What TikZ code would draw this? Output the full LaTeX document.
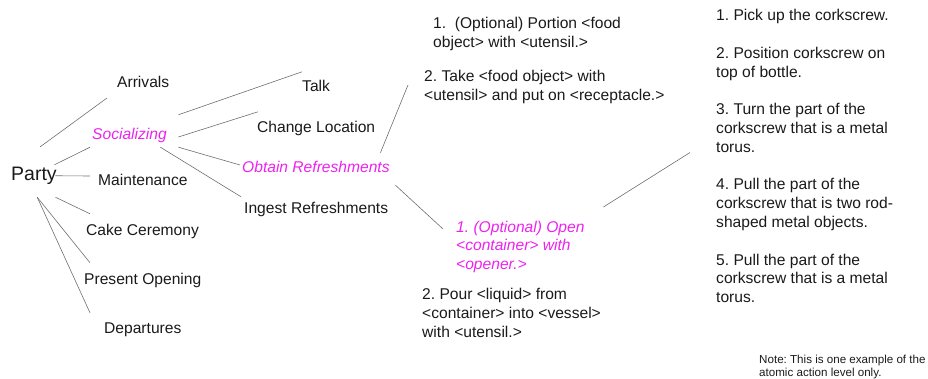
\documentclass[tikz,border=0pt]{standalone}
\usepackage{fontspec}
\setmainfont{Liberation Sans}
\usepackage{tikz}
\definecolor{hilite}{HTML}{EE22EE}
\definecolor{wire}{HTML}{6E6E6E}
\definecolor{ink}{HTML}{1A1A1A}
\newcommand{\bodyfont}{\fontsize{15.6}{18.8}\selectfont}
\newcommand{\notefont}{\fontsize{11.6}{13}\selectfont}
\frenchspacing

\begin{document}
\begin{tikzpicture}[
  x=1pt, y=-1pt,
  lbl/.style={anchor=base west, inner sep=0pt, text height=11.5pt,
              text depth=3.3pt, font=\bodyfont, text=ink},
  hot/.style={lbl, font=\bodyfont\itshape, text=hilite},
  para/.style={anchor=north west, inner sep=0pt, align=left,
               font=\bodyfont, text=ink},
  link/.style={draw=wire, line width=0.6pt}
]
\useasboundingbox (0,0) rectangle (928,379);
% Party and its activities
\node[lbl, font=\fontsize{19.5}{23}\selectfont, text height=14.5pt,
      text depth=4pt] (party) at (11,181) {Party};
\node[lbl] (arrivals) at (117,87.5)  {Arrivals};
\node[hot] (social)   at (92,139.5)  {Socializing};
\node[lbl] (maint)    at (98,185.5)  {Maintenance};
\node[lbl] (cake)     at (86,235.5)  {Cake Ceremony};
\node[lbl] (present)  at (84,284.5)  {Present Opening};
\node[lbl] (depart)   at (104,333.5) {Departures};
% Socializing row
\node[lbl] (talk)    at (302,91.5)  {Talk};
\node[lbl] (change)  at (257,132.5) {Change Location};
\node[hot] (obtain)  at (242,172.5) {Obtain Refreshments};
\node[lbl] (ingest)  at (244,213.5) {Ingest Refreshments};
% Refreshment steps
\node[para] (portion) at (433,17.1)
  {1.\ \ (Optional) Portion <food\\object> with <utensil.>};
\node[para] (take) at (424,70.1)
  {2. Take <food object> with\\<utensil> and put on <receptacle.>};
\node[para, font=\bodyfont\itshape, text=hilite] (openit) at (456,220.6)
  {1. (Optional) Open\\<container> with\\<opener.>};
\node[para] (pour) at (422,288.1)
  {2. Pour <liquid> from\\<container> into <vessel>\\with <utensil.>};
% Atomic actions
\node[para] (atomic) at (716,9.1)
  {1. Pick up the corkscrew.\\[18.8pt]
   2. Position corkscrew on\\top of bottle.\\[18.8pt]
   3. Turn the part of the\\corkscrew that is a metal\\torus.\\[18.8pt]
   4. Pull the part of the\\corkscrew that is two rod-\\shaped metal objects.\\[18.8pt]
   5. Pull the part of the\\corkscrew that is a metal\\torus.};
\node[para, font=\notefont] (note) at (759,354.5)
  {Note: This is one example of the\\atomic action level only.};
% Links from Party
\draw[link] ([shift={(6.25,-19.5)}]party.north) -- ([shift={(-10,14.6)}]arrivals.west);
\draw[link] ([shift={(-2.5,-1.5)}]party.north east) -- ([shift={(-2,4.2)}]social.south west);
\draw[link] ([shift={(-1.5,0)}]party.east) -- ([shift={(-8,-5.4)}]maint.west);
\draw[link] ([shift={(-1.5,12)}]party.south east) -- ([shift={(4,-10)}]cake.north west);
\draw[link] ([shift={(3.25,12)}]party.south) -- ([shift={(6,-10)}]present.north west);
\draw[link] ([shift={(3.25,12)}]party.south) -- ([shift={(-14,-9)}]depart.north west);
% Links from Socializing
\draw[link] ([shift={(11.4,-13)}]social.north east) -- ([shift={(0,-8)}]talk.north west);
\draw[link] ([shift={(11.4,1.6)}]social.east) -- ([shift={(1,-9)}]change.north west);
\draw[link] ([shift={(11.4,4.2)}]social.south east) -- ([shift={(-2,-3.4)}]obtain.west);
\draw[link] ([shift={(-6.6,4.2)}]social.south east) -- ([shift={(-3,-5)}]ingest.north west);
% Links from Obtain Refreshments
\draw[link] ([shift={(-9.4,-8)}]obtain.north east) -- ([shift={(-16,-2)}]take.west);
\draw[link] ([shift={(5.6,9.2)}]obtain.south east) -- ([shift={(-13,8.4)}]openit.north west);
\draw[link] ([shift={(18.7,-13.6)}]openit.north east) -- ([shift={(-26,-3.5)}]atomic.west);
\end{tikzpicture}
\end{document}
